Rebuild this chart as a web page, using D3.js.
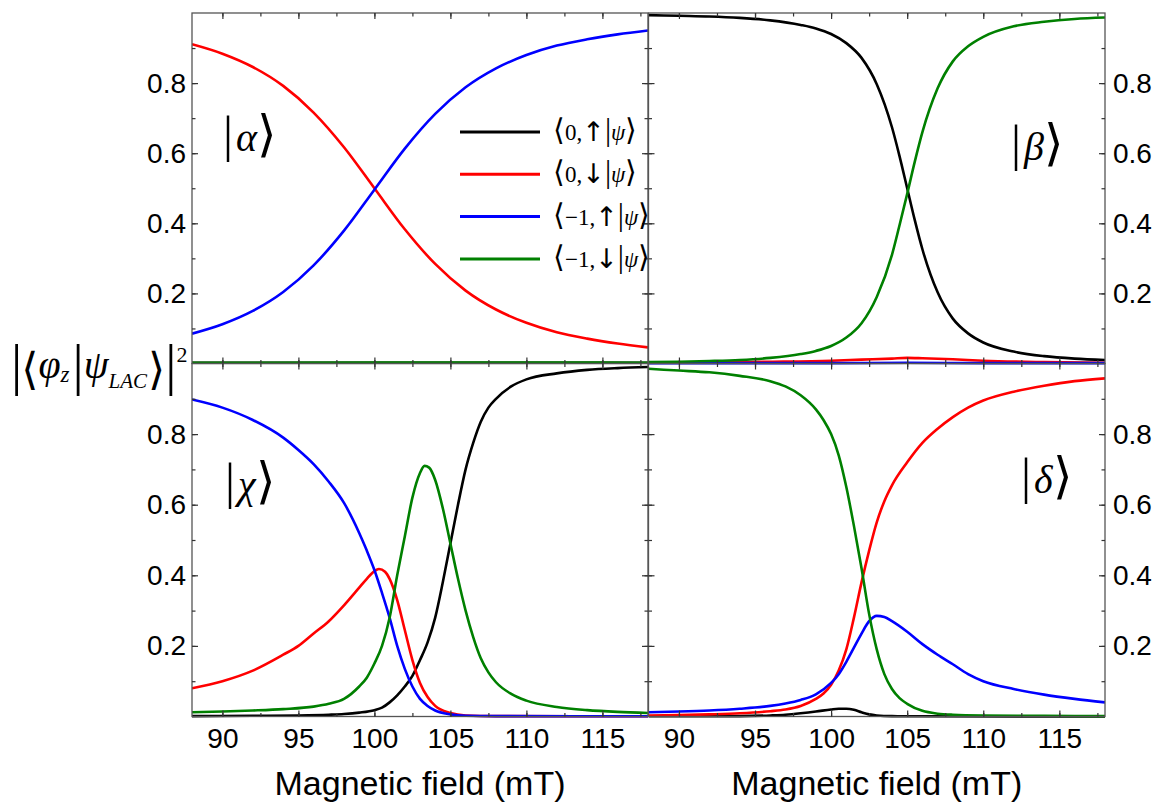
<!DOCTYPE html>
<html>
<head>
<meta charset="utf-8">
<script src="https://cdn.jsdelivr.net/npm/d3@7"></script>
<style>
  body { margin: 0; background: #fff; }
</style>
</head>
<body>
<div id="main"></div>
<script>
const width = 1158;
const height = 806;

const serif = "'Liberation Serif', 'Times New Roman', 'DejaVu Sans', serif";
const sans = "'Liberation Sans', Arial, sans-serif";
const bracketFont = "'DejaVu Sans Light', 'DejaVu Sans', sans-serif";

const seriesColors = ["#000000", "#ff0000", "#0000ff", "#008000"];
const legendLabels = [
  ["0,", "↑"],
  ["0,", "↓"],
  ["−1,", "↑"],
  ["−1,", "↓"],
];

const fieldTicks = [90, 95, 100, 105, 110, 115];
const valueTicks = [0.2, 0.4, 0.6, 0.8];

// |alpha>
const alphaBlack = [[88, 0.002], [100, 0.002], [110, 0.002], [118, 0.002]];
const alphaRed = [[88, 0.911], [90, 0.884], [92, 0.846], [94, 0.792], [96, 0.716], [98, 0.617], [100, 0.5], [102, 0.383], [104, 0.284], [106, 0.208], [108, 0.154], [110, 0.116], [112, 0.089], [114, 0.071], [116, 0.057], [118, 0.046]];
const alphaBlue = [[88, 0.085], [90, 0.112], [92, 0.15], [94, 0.204], [96, 0.28], [98, 0.379], [100, 0.496], [102, 0.613], [104, 0.712], [106, 0.788], [108, 0.842], [110, 0.88], [112, 0.907], [114, 0.925], [116, 0.939], [118, 0.95]];
const alphaGreen = [[88, 0.002], [100, 0.003], [110, 0.003], [118, 0.002]];

// |beta>
const betaBlack = [[88, 0.994], [90, 0.992], [92, 0.99], [94, 0.986], [96, 0.979], [98, 0.966], [99, 0.956], [100, 0.94], [101, 0.914], [102, 0.872], [103, 0.797], [104, 0.674], [104.5, 0.591], [105, 0.5], [105.5, 0.409], [106, 0.326], [107, 0.203], [108, 0.128], [109, 0.086], [110, 0.06], [112, 0.034], [114, 0.021], [116, 0.014], [118, 0.01]];
const betaRed = [[88, 0.002], [92, 0.003], [96, 0.005], [100, 0.008], [102, 0.011], [104, 0.014], [105, 0.016], [106, 0.015], [108, 0.012], [110, 0.008], [114, 0.004], [118, 0.002]];
const betaBlue = [[88, 0.001], [100, 0.001], [105, 0.002], [110, 0.001], [118, 0.001]];
const betaGreen = [[88, 0.004], [90, 0.005], [92, 0.007], [94, 0.01], [96, 0.016], [98, 0.027], [99, 0.036], [100, 0.05], [101, 0.074], [102, 0.115], [103, 0.19], [104, 0.31], [104.5, 0.395], [105, 0.484], [105.5, 0.576], [106, 0.66], [107, 0.785], [108, 0.862], [109, 0.905], [110, 0.932], [112, 0.962], [114, 0.975], [116, 0.983], [118, 0.987]];

// |chi>
const chiBlack = [[88, 0.001], [92, 0.002], [95, 0.003], [97, 0.005], [98, 0.007], [99, 0.011], [100, 0.018], [100.5, 0.025], [101, 0.04], [101.5, 0.06], [102, 0.085], [102.5, 0.115], [103, 0.16], [103.5, 0.21], [104, 0.28], [104.5, 0.38], [105, 0.49], [105.5, 0.6], [106, 0.7], [106.5, 0.775], [107, 0.835], [107.5, 0.875], [108, 0.9], [109, 0.935], [110, 0.955], [112, 0.972], [114, 0.982], [116, 0.987], [118, 0.99]];
const chiRed = [[88, 0.08], [90, 0.1], [92, 0.13], [94, 0.175], [95, 0.2], [96, 0.235], [97, 0.27], [98, 0.315], [99, 0.365], [99.5, 0.39], [100, 0.412], [100.3, 0.418], [100.7, 0.41], [101, 0.39], [101.5, 0.33], [102, 0.245], [102.5, 0.16], [103, 0.095], [103.5, 0.055], [104, 0.03], [105, 0.01], [106, 0.003], [108, 0.001], [118, 0.0005]];
const chiBlue = [[88, 0.898], [90, 0.875], [92, 0.84], [94, 0.79], [95, 0.755], [96, 0.715], [97, 0.665], [98, 0.605], [99, 0.52], [99.5, 0.47], [100, 0.415], [100.5, 0.35], [101, 0.28], [101.5, 0.2], [102, 0.135], [102.5, 0.085], [103, 0.05], [103.5, 0.03], [104, 0.017], [105, 0.006], [106, 0.002], [108, 0.001], [118, 0.0005]];
const chiGreen = [[88, 0.012], [90, 0.014], [92, 0.017], [94, 0.021], [96, 0.028], [97, 0.036], [98, 0.05], [99, 0.085], [99.5, 0.11], [100, 0.15], [100.5, 0.2], [101, 0.28], [101.5, 0.4], [102, 0.51], [102.5, 0.62], [103, 0.69], [103.3, 0.71], [103.6, 0.705], [104, 0.67], [104.5, 0.59], [105, 0.49], [105.5, 0.39], [106, 0.3], [106.5, 0.225], [107, 0.165], [107.5, 0.125], [108, 0.097], [109, 0.064], [110, 0.045], [112, 0.027], [114, 0.018], [116, 0.013], [118, 0.01]];

// |delta>
const deltaBlack = [[88, 0.0005], [94, 0.001], [96, 0.003], [97, 0.005], [98, 0.009], [99, 0.014], [100, 0.02], [100.5, 0.022], [101, 0.022], [101.5, 0.019], [102, 0.012], [102.5, 0.006], [103, 0.003], [104, 0.001], [106, 0.0005], [118, 0.0003]];
const deltaRed = [[88, 0.003], [90, 0.004], [92, 0.006], [94, 0.009], [96, 0.015], [97, 0.02], [98, 0.03], [99, 0.05], [99.5, 0.065], [100, 0.09], [100.5, 0.13], [101, 0.19], [101.5, 0.28], [102, 0.38], [102.5, 0.47], [103, 0.55], [103.5, 0.61], [104, 0.655], [105, 0.72], [106, 0.775], [107, 0.815], [108, 0.848], [109, 0.875], [110, 0.895], [112, 0.92], [114, 0.937], [116, 0.95], [118, 0.958]];
const deltaBlue = [[88, 0.012], [90, 0.014], [92, 0.017], [94, 0.022], [96, 0.03], [97, 0.037], [98, 0.047], [99, 0.063], [100, 0.095], [100.5, 0.12], [101, 0.155], [101.5, 0.195], [102, 0.235], [102.5, 0.27], [103, 0.285], [103.5, 0.282], [104, 0.27], [105, 0.24], [106, 0.205], [107, 0.175], [108, 0.148], [109, 0.12], [110, 0.1], [112, 0.078], [114, 0.062], [116, 0.05], [118, 0.04]];
const deltaGreen = [[88, 0.985], [90, 0.98], [92, 0.975], [94, 0.965], [96, 0.95], [97, 0.935], [98, 0.91], [99, 0.87], [99.5, 0.84], [100, 0.8], [100.5, 0.74], [101, 0.65], [101.5, 0.54], [102, 0.42], [102.5, 0.29], [103, 0.19], [103.5, 0.12], [104, 0.078], [104.5, 0.052], [105, 0.036], [106, 0.016], [107, 0.008], [108, 0.005], [110, 0.003], [114, 0.002], [118, 0.001]];

const panels = [
  { id: "alpha", x0: 192, x1: 648, y0: 13, y1: 363.5, side: "left", bottom: false,
    series: [alphaBlack, alphaRed, alphaBlue, alphaGreen], ket: "α", kx: 223, ky: 151 },
  { id: "beta", x0: 648.5, x1: 1105, y0: 13, y1: 363.5, side: "right", bottom: false,
    series: [betaBlack, betaRed, betaBlue, betaGreen], ket: "β", kx: 1011, ky: 160 },
  { id: "chi", x0: 192, x1: 648, y0: 363.5, y1: 716.5, side: "left", bottom: true,
    series: [chiBlack, chiRed, chiBlue, chiGreen], ket: "χ", kx: 225, ky: 498 },
  { id: "delta", x0: 648.5, x1: 1105, y0: 363.5, y1: 716.5, side: "right", bottom: true,
    series: [deltaBlack, deltaRed, deltaBlue, deltaGreen], ket: "δ", kx: 1021, ky: 493 },
];

const svg = d3.select("#main").append("svg").attr("width", width).attr("height", height);

const drawPanel = (p) => {
  const x = d3.scaleLinear().domain([88, 118]).range([p.x0, p.x1]);
  const y = d3.scaleLinear().domain([0, 1]).range([p.y1, p.y0]);

  const clip = svg.append("clipPath").attr("id", "clip-" + p.id);
  clip.append("rect")
    .attr("x", p.x0)
    .attr("y", p.y0 - 2)
    .attr("width", p.x1 - p.x0)
    .attr("height", p.y1 - p.y0 + 4);

  const line = d3.line()
    .x((d) => x(d[0]))
    .y((d) => y(d[1]))
    .curve(d3.curveMonotoneX);

  const g = svg.append("g").attr("clip-path", "url(#clip-" + p.id + ")");
  p.series.forEach((s, i) => {
    g.append("path")
      .attr("d", line(s))
      .attr("fill", "none")
      .attr("stroke", seriesColors[i])
      .attr("stroke-width", 2.6)
      .attr("stroke-linejoin", "round");
  });

  // frame
  svg.append("rect")
    .attr("x", p.x0)
    .attr("y", p.y0)
    .attr("width", p.x1 - p.x0)
    .attr("height", p.y1 - p.y0)
    .attr("fill", "none")
    .attr("stroke", "#555")
    .attr("stroke-width", 1.3);

  const minorX = d3.range(90, 118, 2.5);
  const minorY = d3.range(0.1, 1, 0.1);

  const addAxis = (axis, tx, ty, labels) => {
    const a = svg.append("g")
      .attr("transform", `translate(${tx},${ty})`)
      .call(axis);
    a.select(".domain").remove();
    a.selectAll(".tick line").attr("stroke", "#333").attr("stroke-width", 1.2);
    if (!labels) a.selectAll(".tick text").remove();
    return a;
  };

  // x ticks, bottom and top, inward
  addAxis(d3.axisBottom(x).tickValues(minorX).tickSize(-3.5), 0, p.y1, false);
  addAxis(d3.axisTop(x).tickValues(minorX).tickSize(-3.5), 0, p.y0, false);
  const xb = addAxis(d3.axisBottom(x).tickValues(fieldTicks).tickSize(-6).tickPadding(12), 0, p.y1, p.bottom);
  addAxis(d3.axisTop(x).tickValues(fieldTicks).tickSize(-6), 0, p.y0, false);
  if (p.bottom) {
    xb.selectAll(".tick text")
      .attr("font-family", sans)
      .attr("font-size", 28)
      .attr("fill", "#000");
  }

  // y ticks, left and right, inward
  addAxis(d3.axisLeft(y).tickValues(minorY).tickSize(-3.5), p.x0, 0, false);
  addAxis(d3.axisRight(y).tickValues(minorY).tickSize(-3.5), p.x1, 0, false);
  const yl = addAxis(d3.axisLeft(y).tickValues(valueTicks).tickSize(-6).tickPadding(6).tickFormat(d3.format(".1f")), p.x0, 0, p.side === "left");
  const yr = addAxis(d3.axisRight(y).tickValues(valueTicks).tickSize(-6).tickPadding(8).tickFormat(d3.format(".1f")), p.x1, 0, p.side === "right");
  [yl, yr].forEach((a) => a.selectAll(".tick text")
    .attr("font-family", sans)
    .attr("font-size", 28)
    .attr("fill", "#000"));

  if (p.bottom) {
    svg.append("text")
      .attr("x", (p.x0 + p.x1) / 2)
      .attr("y", 795)
      .attr("text-anchor", "middle")
      .attr("font-family", sans)
      .attr("font-size", 34)
      .text("Magnetic field (mT)");
  }

  // state label |x>
  const k = svg.append("text")
    .attr("x", p.kx)
    .attr("y", p.ky)
    .attr("font-family", serif)
    .attr("font-size", 40);
  k.append("tspan").attr("font-size", 50).text("|");
  k.append("tspan").attr("font-style", "italic").attr("dx", 3).text(p.ket);
  k.append("tspan").attr("font-size", 50).attr("font-family", bracketFont).attr("font-weight", 200).text("⟩");
};

panels.forEach(drawPanel);

// legend
const legend = svg.append("g").attr("id", "legend");
legendLabels.forEach((lab, i) => {
  const ly = 132 + i * 42.3;
  legend.append("line")
    .attr("x1", 460).attr("x2", 540)
    .attr("y1", ly).attr("y2", ly)
    .attr("stroke", seriesColors[i])
    .attr("stroke-width", 3);
  const t = legend.append("text")
    .attr("x", 553)
    .attr("y", ly + 8)
    .attr("font-family", serif)
    .attr("font-size", 23);
  t.append("tspan").attr("font-size", 30).attr("font-family", bracketFont).attr("font-weight", 200).text("⟨");
  t.append("tspan").text(lab[0]);
  t.append("tspan").attr("font-family", "'DejaVu Sans', sans-serif").attr("font-size", 27).attr("dy", 1).text(lab[1]);
  t.append("tspan").attr("font-size", 31).attr("dy", -1).text("|");
  t.append("tspan").attr("font-style", "italic").text("ψ");
  t.append("tspan").attr("font-size", 30).attr("font-family", bracketFont).attr("font-weight", 200).text("⟩");
});

// y axis title |<phi_z|psi_LAC>|^2, one text run
const title = svg.append("text")
  .attr("x", 11)
  .attr("y", 384)
  .attr("font-family", serif)
  .attr("font-size", 56);
title.append("tspan").text("|");
title.append("tspan").attr("font-size", 44).attr("font-family", bracketFont).attr("dx", -1).text("⟨");
title.append("tspan").attr("font-size", 40).attr("font-style", "italic").attr("dy", -6).text("φ");
title.append("tspan").attr("font-size", 23).attr("font-style", "italic").attr("dy", 4).text("z");
title.append("tspan").attr("dx", 3).attr("dy", 2).text("|");
title.append("tspan").attr("font-size", 40).attr("font-style", "italic").attr("dy", -6).text("ψ");
title.append("tspan").attr("font-size", 21).attr("font-style", "italic").attr("dy", 10).text("LAC");
title.append("tspan").attr("font-size", 44).attr("font-family", bracketFont).attr("dx", 1).attr("dy", -4).text("⟩");
title.append("tspan").text("|");
title.append("tspan").attr("font-size", 22).attr("dy", -22).text("2");
</script>
</body>
</html>
